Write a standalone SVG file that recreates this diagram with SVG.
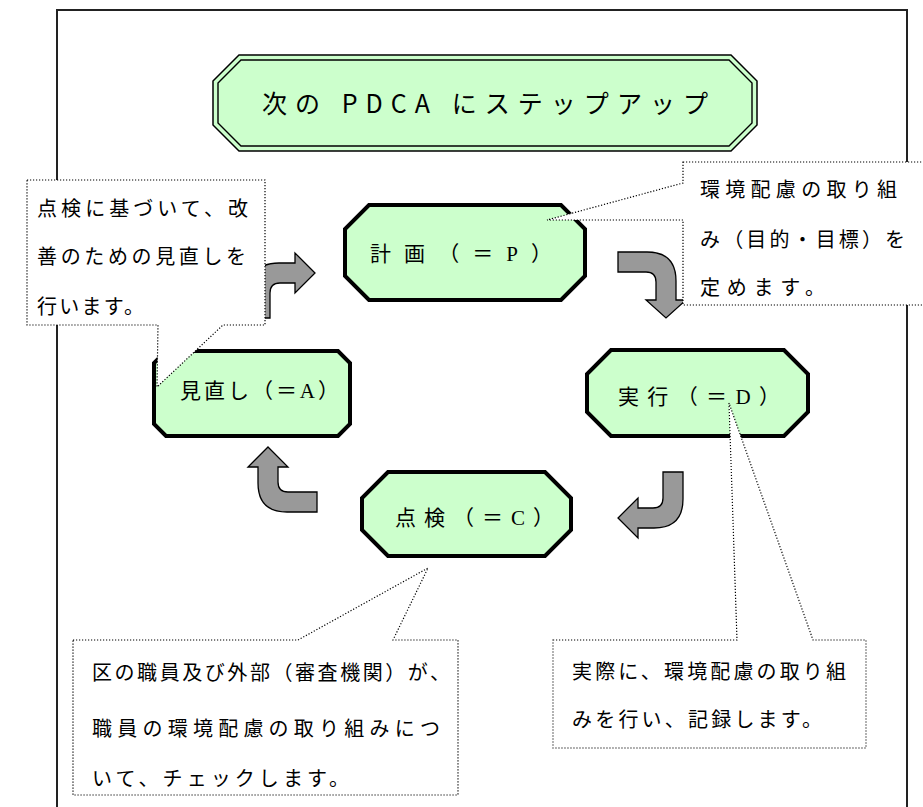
<svg xmlns="http://www.w3.org/2000/svg" width="923" height="807" viewBox="0 0 923 807">
<style>
.frame{fill:none;stroke:#222;stroke-width:2}
.tfill{fill:#ccffcc;stroke:#000;stroke-width:1.5}
.tline{fill:none;stroke:#000;stroke-width:1.4}
.node polygon{fill:#ccffcc;stroke:#000;stroke-width:4}
.arrow{fill:#999;stroke:#000;stroke-width:1.3}
.callout path{fill:#fff;stroke:#000;stroke-width:1.2;stroke-dasharray:1.2 1.8}
.jp{font-family:"Noto Sans CJK JP","Noto Sans",sans-serif;font-size:20px;fill:#000}
.lbl{font-size:21px}
.lat{font-family:"Liberation Serif",serif}
.title{font-family:"Noto Sans CJK JP","Noto Sans",sans-serif;font-size:25px;fill:#000}
</style>
<rect class="frame" x="57" y="10" width="850" height="830"/>
<g id="title">
<polygon class="tfill" points="213,81 239,55 731,55 757,81 757,125 731,151 239,151 213,125"/>
<polygon class="tline" points="218,83 241,60 729,60 752,83 752,123 729,146 241,146 218,123"/>
<text class="title" x="262" y="113" textLength="446" lengthAdjust="spacing">次の PDCA にステップアップ</text>
</g>
<g id="connectors">
<path class="arrow" d="M250,318 L250,292 Q250,263 279,263 L295,263 L295,253 L315,273 L295,293 L295,283 L280,283 Q270,283 270,293 L270,318 Z"/>
<path class="arrow" d="M618,252 L647,252 Q676,252 676,281 L676,300 L686,300 L666,318 L646,300 L656,300 L656,282 Q656,272 646,272 L618,272 Z"/>
<path class="arrow" d="M663,472 L683,472 L683,499 Q683,528 654,528 L638,528 L638,538 L618,518 L638,498 L638,508 L653,508 Q663,508 663,498 Z"/>
<path class="arrow" d="M268,447 L288,467 L278,467 L278,482 Q278,492 288,492 L317,492 L317,512 L287,512 Q258,512 258,483 L258,467 L248,467 Z"/>
</g>
<g id="plan" class="node">
<polygon points="369,205 561,205 585,229 585,276 561,300 369,300 345,276 345,229"/>
<text class="jp lbl" x="370" y="261" textLength="182" lengthAdjust="spacing">計画（＝<tspan class="lat">P</tspan>）</text>
</g>
<g id="do" class="node">
<polygon points="611,350 784,350 808,374 808,412 784,436 611,436 587,412 587,374"/>
<text class="jp lbl" x="618" y="404" textLength="162" lengthAdjust="spacing">実行（＝<tspan class="lat">D</tspan>）</text>
</g>
<g id="check" class="node">
<polygon points="388,472 545,472 571,498 571,530 545,556 388,556 362,530 362,498"/>
<text class="jp lbl" x="395" y="525" textLength="159" lengthAdjust="spacing">点検（＝<tspan class="lat">C</tspan>）</text>
</g>
<g id="act" class="node">
<polygon points="166,351 338,351 350,363 350,424 338,436 166,436 154,424 154,363"/>
<text class="jp lbl" x="180" y="398" textLength="159" lengthAdjust="spacing">見直し（＝<tspan class="lat">A</tspan>）</text>
</g>
<g id="note-act" class="callout">
<path d="M27,180 H265 V325 H223 L157,387 L158,325 H27 Z"/>
<text class="jp" x="37" y="216" textLength="211" lengthAdjust="spacing">点検に基づいて、改</text>
<text class="jp" x="37" y="264" textLength="209" lengthAdjust="spacing">善のための見直しを</text>
<text class="jp" x="37" y="314" textLength="107" lengthAdjust="spacing">行います。</text>
</g>
<g id="note-plan" class="callout">
<path d="M683,162 H935 V305 H683 V220 H547 L683,183 Z"/>
<text class="jp" x="700" y="197" textLength="197" lengthAdjust="spacing">環境配慮の取り組</text>
<text class="jp" x="700" y="247" textLength="205" lengthAdjust="spacing">み（目的・目標）を</text>
<text class="jp" x="700" y="295" textLength="125" lengthAdjust="spacing">定めます。</text>
</g>
<g id="note-check" class="callout">
<path d="M73,640 H298 L428,568 L393,640 H458 V795 H73 Z"/>
<text class="jp" x="92" y="680" textLength="358" lengthAdjust="spacing">区の職員及び外部（審査機関）が、</text>
<text class="jp" x="92" y="736" textLength="348" lengthAdjust="spacing">職員の環境配慮の取り組みにつ</text>
<text class="jp" x="92" y="786" textLength="257" lengthAdjust="spacing">いて、チェックします。</text>
</g>
<g id="note-do" class="callout">
<path d="M553,640 H737 L729,403 L813,640 H866 V748 H553 Z"/>
<text class="jp" x="572" y="679" textLength="274" lengthAdjust="spacing">実際に、環境配慮の取り組</text>
<text class="jp" x="572" y="727" textLength="250" lengthAdjust="spacing">みを行い、記録します。</text>
</g>
</svg>
